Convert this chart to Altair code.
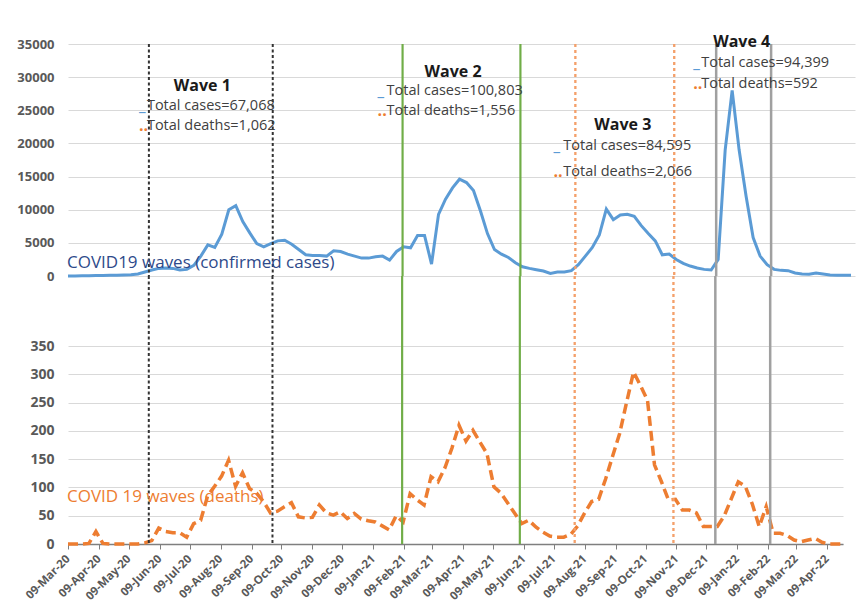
import altair as alt
import pandas as pd

# ---------------- data ----------------
START = "2020-03-09"   # first weekly point

cases = [
    0, 5, 20, 40, 60, 90, 110, 120, 150, 200,
    300, 600, 900, 1150, 1200, 1150, 900, 1000, 1600, 3000,
    4700, 4300, 6300, 10000, 10600, 8200, 6500, 4900, 4400, 4900,
    5300, 5400, 4800, 4000, 3200, 3100, 3100, 3000, 3800, 3700,
    3300, 3000, 2700, 2700, 2900, 3000, 2400, 3700, 4400, 4250,
    6100, 6100, 1800, 9300, 11600, 13300, 14600, 14100, 12900, 9800,
    6400, 4000, 3300, 2800, 2000, 1400, 1150, 950, 750, 400,
    600, 600, 800, 1700, 3000, 4300, 6200, 10100, 8500, 9200,
    9300, 9000, 7600, 6400, 5300, 3200, 3300, 2500, 1900, 1500,
    1200, 1000, 900, 2500, 19000, 28000, 19000, 12000, 5800, 3000,
    1700, 1000, 850, 800, 450, 300, 250, 450, 300, 150, 130, 110, 100,
]

deaths = [
    0, 0, 0, 1, 22, 1, 0, 0, 0, 0,
    0, 2, 6, 28, 22, 20, 20, 12, 36, 42,
    85, 102, 120, 148, 102, 126, 98, 90, 75, 55,
    58, 66, 73, 48, 46, 47, 69, 55, 51, 57,
    45, 54, 44, 41, 39, 32, 25, 50, 39, 89,
    78, 69, 119, 110, 135, 170, 210, 182, 201, 180,
    160, 101, 90, 72, 54, 36, 42, 30, 21, 14,
    12, 12, 17, 32, 55, 75, 79, 115, 155, 195,
    250, 304, 280, 254, 140, 110, 78, 79, 60, 60,
    55, 31, 31, 31, 50, 80, 110, 102, 71, 31,
    66, 19, 19, 15, 7, 4, 7, 10, 3, 0,
    0, 0,
]

# wave boundaries (vertical lines)
bound_dates = ["2020-05-29", "2020-09-30", "2021-02-07", "2021-06-05",
               "2021-07-30", "2021-11-06", "2021-12-18", "2022-02-11"]
bound_waves = ["Wave 1", "Wave 1", "Wave 2", "Wave 2",
               "Wave 3", "Wave 3", "Wave 4", "Wave 4"]
WAVES = ["Wave 1", "Wave 2", "Wave 3", "Wave 4"]

# annotation texts
title_dates = ["2020-06-23", "2021-03-01", "2021-08-18", "2021-12-15"]
title_vals = [28660, 30780, 22780, 35300]

case_texts = ["Total cases=67,068", "Total cases=100,803",
              "Total cases=84,595", "Total cases=94,399"]
death_texts = ["Total deaths=1,062", "Total deaths=1,556",
               "Total deaths=2,066", "Total deaths=592"]
text_dates = ["2020-05-27", "2021-01-22", "2021-07-18", "2021-12-03"]
case_text_vals = [25650, 27910, 19610, 32130]
death_text_vals = [22630, 24890, 15690, 28970]
marker_dates = ["2020-05-19", "2021-01-13", "2021-07-08", "2021-11-25"]

cases_label = "COVID19 waves (confirmed cases)"
deaths_label = "COVID 19 waves (deaths)"

# ---------------- tables ----------------
start = pd.Timestamp(START)
cases_df = pd.DataFrame({
    "date": [(start + pd.Timedelta(weeks=i)).strftime("%Y-%m-%d") for i in range(len(cases))],
    "value": cases,
})
deaths_df = pd.DataFrame({
    "date": [(start + pd.Timedelta(weeks=i)).strftime("%Y-%m-%d") for i in range(len(deaths))],
    "value": deaths,
})
bounds_df = pd.DataFrame({"date": bound_dates, "wave": bound_waves})
titles_df = pd.DataFrame({"date": title_dates, "value": title_vals, "label": WAVES})
ctext_df = pd.DataFrame({"date": text_dates, "value": case_text_vals, "label": case_texts})
dtext_df = pd.DataFrame({"date": text_dates, "value": death_text_vals, "label": death_texts})
cmark_df = pd.DataFrame({"date": marker_dates, "value": case_text_vals, "label": ["_"] * 4})
dmark_df = pd.DataFrame({"date": marker_dates, "value": death_text_vals, "label": [".."] * 4})
clabel_df = pd.DataFrame({"date": ["2020-03-08"], "value": [1960], "label": [cases_label]})
dlabel_df = pd.DataFrame({"date": ["2020-03-08"], "value": [83], "label": [deaths_label]})


def dt(s):
    y, m, d = map(int, s.split("-"))
    return alt.DateTime(year=y, month=m, date=d, utc=True)


month_ticks = [alt.DateTime(year=y, month=m, date=9, utc=True)
               for y, m in [(2020, m) for m in range(3, 13)]
               + [(2021, m) for m in range(1, 13)]
               + [(2022, m) for m in range(1, 5)]]

W_TOP, H_TOP = 787, 232
W_BOT, H_BOT = 775, 198
GAP = 70
FONT = "Open Sans"

BLUE = "#5B9BD5"
ORANGE = "#ED7D31"
GREY_TXT = "#595959"

x_top = alt.X("date:T",
              scale=alt.Scale(type="utc", domain=[dt("2020-03-09"), dt("2022-05-06")]),
              axis=None)
x_bot = alt.X("date:T",
              scale=alt.Scale(type="utc", domain=[dt("2020-03-09"), dt("2022-04-25")]),
              axis=alt.Axis(values=month_ticks, format="%d-%b-%y", labelAngle=315,
                            labelAlign="right", labelBaseline="middle", labelPadding=8,
                            labelFontSize=11.5, labelFontWeight="bold", title=None, grid=False,
                            domainColor="#7F7F7F", domainWidth=1.5,
                            tickColor="#7F7F7F", tickSize=5, labelFlush=False,
                            labelOverlap=False))
y_top = alt.Y("value:Q", scale=alt.Scale(domain=[0, 35000], nice=False),
              axis=alt.Axis(values=list(range(0, 35001, 5000)), format="d", title=None,
                            domain=False, ticks=False, labelPadding=14,
                            labelFontSize=13, labelFontWeight="bold"))
y_bot = alt.Y("value:Q", scale=alt.Scale(domain=[0, 350], nice=False),
              axis=alt.Axis(values=list(range(0, 351, 50)), format="d", title=None,
                            domain=False, ticks=False, labelPadding=14,
                            labelFontSize=14, labelFontWeight="bold"))

rule_color = alt.Color("wave:N", legend=None,
                       scale=alt.Scale(domain=WAVES,
                                       range=["#333333", "#70AD47", "#F4A06A", "#A0A0A0"]))
rule_dash = alt.StrokeDash("wave:N", legend=None,
                           scale=alt.Scale(domain=WAVES,
                                           range=[[3, 2.5], [1, 0], [3, 3], [1, 0]]))
rule_width = alt.StrokeWidth("wave:O", legend=None,
                             scale=alt.Scale(domain=WAVES, range=[2, 2.5, 1.8, 2]))

# ---------------- top panel: confirmed cases ----------------
top_line = alt.Chart(cases_df).mark_line(color=BLUE, strokeWidth=3).encode(x=x_top, y=y_top)
top_rules = alt.Chart(bounds_df).mark_rule().encode(
    x=x_top, y=alt.value(0), y2=alt.value(H_TOP),
    color=rule_color, strokeDash=rule_dash, strokeWidth=rule_width)
top_titles = alt.Chart(titles_df).mark_text(
    align="left", baseline="middle", font=FONT, fontSize=16, fontWeight="bold",
    color="#1A1A1A").encode(x=x_top, y=y_top, text="label:N")
top_ctext = alt.Chart(ctext_df).mark_text(
    align="left", baseline="middle", font=FONT, fontSize=14.5, color="#404040"
).encode(x=x_top, y=y_top, text="label:N")
top_dtext = alt.Chart(dtext_df).mark_text(
    align="left", baseline="middle", font=FONT, fontSize=14.5, color="#404040"
).encode(x=x_top, y=y_top, text="label:N")
top_cmark = alt.Chart(cmark_df).mark_text(
    align="left", baseline="middle", font=FONT, fontSize=16, fontWeight="bold", color=BLUE
).encode(x=x_top, y=y_top, text="label:N")
top_dmark = alt.Chart(dmark_df).mark_text(
    align="left", baseline="middle", font=FONT, fontSize=16, fontWeight="bold", color=ORANGE
).encode(x=x_top, y=y_top, text="label:N")
top_label = alt.Chart(clabel_df).mark_text(
    align="left", baseline="middle", font=FONT, fontSize=17, color="#2E4A8A"
).encode(x=x_top, y=y_top, text="label:N")

top = alt.layer(top_line, top_rules, top_titles, top_ctext, top_dtext,
                top_cmark, top_dmark, top_label).properties(width=W_TOP, height=H_TOP)

# ---------------- bottom panel: deaths ----------------
bot_line = alt.Chart(deaths_df).mark_line(
    color=ORANGE, strokeWidth=3.5, strokeDash=[10, 5]).encode(x=x_bot, y=y_bot)
bot_rules = alt.Chart(bounds_df).mark_rule().encode(
    x=x_bot, y=alt.value(-GAP), y2=alt.value(H_BOT),
    color=rule_color, strokeDash=rule_dash, strokeWidth=rule_width)
bot_label = alt.Chart(dlabel_df).mark_text(
    align="left", baseline="middle", font=FONT, fontSize=17, color=ORANGE
).encode(x=x_bot, y=y_bot, text="label:N")

bottom = alt.layer(bot_line, bot_rules, bot_label).properties(width=W_BOT, height=H_BOT)

chart = alt.vconcat(top, bottom, spacing=GAP, bounds="flush").properties(
    padding={"left": 8, "top": 26, "right": 0, "bottom": 0}
).configure_view(stroke=None).configure_axis(
    labelFont=FONT, labelColor=GREY_TXT, labelFontSize=13,
    gridColor="#D9D9D9", gridWidth=1
)

chart.save("out.html", embed_options={"renderer": "svg", "actions": False})
